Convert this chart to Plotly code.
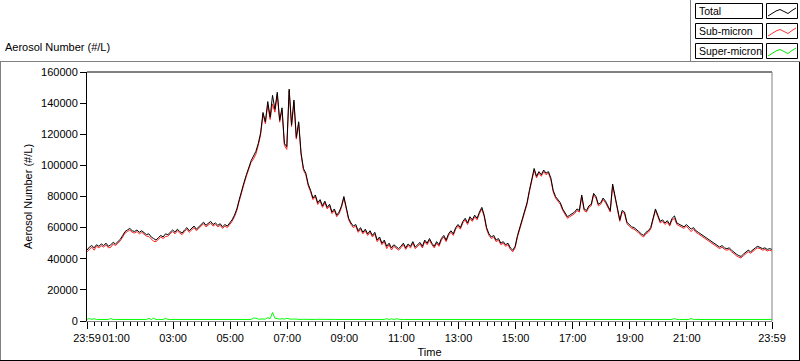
import plotly.graph_objects as go
import pandas as pd

# ---------------- data (5-minute samples from 23:59 to 23:59 next day) ----------------
total = [
    45500, 47500, 48500, 47000, 49000, 48000, 49500, 48500, 50000, 48000, 49000, 50500,
    49500, 51000, 52500, 55000, 57500, 58500, 59500, 58000, 57500, 58500, 57000, 58000,
    56500, 55500, 56000, 54000, 53000, 52000, 53500, 55000, 54000, 56000, 55500, 57000,
    58500, 57000, 59000, 57500, 56500, 58500, 60000, 58000, 59500, 61000, 59000, 60500,
    62000, 63500, 61500, 62500, 64000, 62000, 63000, 61500, 62500, 60500, 62000, 61000,
    63000, 65000, 68000, 72000, 78000, 84000, 89000, 94000, 99000, 103000, 106000, 109000,
    114000, 121000, 134000, 128000, 141000, 131000, 145000, 136000, 147000, 129000, 137000, 114000,
    112000, 149000, 126000, 142000, 118000, 128000, 108000, 98000, 95000, 88000, 84000, 79000,
    81000, 76000, 78000, 74000, 77000, 73000, 75000, 70000, 72000, 68000, 70000, 74000,
    80000, 72000, 66000, 63000, 61000, 62000, 58000, 60000, 57000, 59000, 56000, 58000,
    55000, 57000, 52000, 54000, 50000, 52000, 48000, 50000, 47000, 49000, 48000, 46500,
    48000, 50000, 47000, 49500, 48000, 51000, 47500, 49000, 50500, 48000, 52000, 50000,
    53000, 50000, 48000, 51000, 49000, 53000, 55000, 52000, 56000, 58000, 56000, 60000,
    62000, 60000, 64000, 66000, 63000, 67000, 65000, 68000, 66000, 70000, 73000, 68000,
    60000, 56000, 54000, 55000, 52000, 53000, 50000, 51000, 49000, 50000, 47000, 45500,
    48000, 55000, 60000, 65000, 70000, 76000, 84000, 92000, 98000, 93000, 96000, 94000,
    97000, 95000, 96000, 92000, 84000, 80000, 78000, 76000, 72000, 69000, 67000, 68000,
    69000, 70000, 72000, 71000, 81000, 72000, 71000, 74000, 75000, 82000, 80000, 75000,
    76000, 79000, 77000, 74000, 71000, 88000, 80000, 73000, 65000, 71000, 70000, 63500,
    62000, 60500, 60000, 59000, 57500, 56000, 55000, 57000, 58000, 60000, 66000, 72000,
    68000, 64000, 65000, 63000, 64500, 62000, 66000, 67500, 63000, 62000, 61000, 60500,
    62000, 60500, 59000, 60000, 58000, 57000, 56000, 55000, 54000, 53000, 52000, 51000,
    50000, 49000, 47500, 48500, 47000, 46500, 47000, 45500, 44000, 43000, 42000, 41500,
    43000, 44000, 45500, 44500, 46000, 47000, 48000, 47500, 46500, 47000, 46000, 46500,
    46000,
]

super_micron = [
    1100, 1600, 1000, 1500, 1000, 1000, 1100, 1000, 1000, 1000, 1600, 1000,
    1000, 1000, 1000, 1000, 1000, 1000, 1100, 1000, 1000, 1000, 1000, 1000,
    1000, 1000, 1700, 1000, 1800, 1000, 1000, 1000, 1000, 1700, 1000, 1000,
    1000, 1000, 1000, 1000, 1000, 1000, 1000, 1000, 1000, 1000, 1000, 1000,
    1000, 1000, 1000, 1000, 1100, 1000, 1000, 1000, 1000, 1000, 1000, 1000,
    1000, 1000, 1000, 1000, 1000, 1000, 1100, 1000, 1000, 1000, 1900, 1800,
    1200, 1400, 1300, 1200, 2200, 1500, 5500, 1800, 1300, 1200, 1500, 1200,
    1700, 1200, 1100, 1300, 1100, 1200, 1000, 1100, 1000, 1100, 1000, 1000,
    1000, 1100, 1000, 1000, 1100, 1000, 1000, 1000, 1000, 1000, 1000, 1000,
    1000, 1000, 1000, 1000, 1000, 1000, 1000, 1000, 1000, 1000, 1000, 1000,
    1000, 1000, 1000, 1000, 1000, 1000, 1500, 1000, 1400, 1000, 1400, 1000,
    1000, 1000, 1000, 1000, 1000, 1000, 1000, 1000, 1000, 1000, 1000, 1000,
    1000, 1000, 1000, 1000, 1000, 1000, 1000, 1000, 1000, 1000, 1000, 1000,
    1000, 1000, 1000, 1000, 1000, 1000, 1000, 1000, 1000, 1000, 1000, 1000,
    1000, 1000, 1000, 1000, 1000, 1000, 1000, 1000, 1000, 1000, 1000, 1000,
    1000, 1000, 1000, 1000, 1000, 1000, 1000, 1000, 1000, 1000, 1000, 1000,
    1000, 1000, 1000, 1000, 1000, 1000, 1000, 1000, 1000, 1000, 1000, 1000,
    1000, 1000, 1000, 1000, 1000, 1000, 1000, 1000, 1000, 1000, 1000, 1000,
    1000, 1000, 1000, 1000, 1000, 1000, 1000, 1000, 1000, 1000, 1000, 1000,
    1000, 1000, 1000, 1000, 1000, 1000, 1000, 1000, 1000, 1000, 1000, 1000,
    1000, 1000, 1000, 1000, 1000, 1000, 1000, 1600, 1000, 1000, 1000, 1000,
    1000, 1000, 1600, 1000, 1000, 1000, 1000, 1000, 1000, 1000, 1000, 1000,
    1000, 1000, 1000, 1000, 1000, 1000, 1000, 1000, 1000, 1000, 1000, 1000,
    1000, 1000, 1000, 1000, 1000, 1000, 1000, 1000, 1000, 1000, 1000, 1000,
    1000,
]

sub_micron = [t - s for t, s in zip(total, super_micron)]

start_time = "2024-01-01 23:59"
end_time = "2024-01-02 23:59"
tick_vals = [start_time] + [f"2024-01-02 {h:02d}:00" for h in range(1, 22, 2)] + [end_time]
tick_text = ["23:59"] + [f"{h:02d}:00" for h in range(1, 22, 2)] + ["23:59"]
y_ticks = [0, 20000, 40000, 60000, 80000, 100000, 120000, 140000, 160000]

times = pd.date_range(start_time, periods=len(total), freq="5min")

# ---------------- geometry helpers (pixel -> paper) ----------------
W, H = 800, 361
L, R, T, B = 87, 772, 72, 321
PW, PH = R - L, B - T


def px(x):
    return (x - L) / PW


def py(y):
    return (B - y) / PH


FONT = "Liberation Sans"
FS = 11
GRAY = "#808080"

fig = go.Figure()
fig.add_trace(go.Scatter(x=times, y=super_micron, mode="lines",
                         line=dict(color="#00ff00", width=1), name="Super-micron"))
fig.add_trace(go.Scatter(x=times, y=sub_micron, mode="lines",
                         line=dict(color="#ff2020", width=1), name="Sub-micron"))
fig.add_trace(go.Scatter(x=times, y=total, mode="lines",
                         line=dict(color="#000000", width=1), name="Total"))

shapes = []


def line(x0, y0, x1, y1, color, width=1):
    shapes.append(dict(type="line", xref="paper", yref="paper",
                       x0=px(x0), y0=py(y0), x1=px(x1), y1=py(y1),
                       line=dict(color=color, width=width), layer="above"))


# outer frame
line(0, 61.5, 690, 61.5, GRAY)
line(0.5, 61, 0.5, 361, GRAY)
line(799.5, 61, 799.5, 361, "#000000")
line(0, 360.5, 800, 360.5, "#000000")
# legend panel border
line(690.5, 0, 690.5, 61, GRAY)
line(690, 61.5, 800, 61.5, GRAY)
# plot borders (top black, right gray)
line(L, T, R, T, "#000000")
line(R, T, R, B, GRAY)

# legend
legend_items = [("Total", "#000000"), ("Sub-micron", "#ff3030"), ("Super-micron", "#00ee00")]
annotations = []
for i, (name, col) in enumerate(legend_items):
    top = 3.5 + i * 20
    bot = top + 15
    shapes.append(dict(type="rect", xref="paper", yref="paper",
                       x0=px(695.5), x1=px(762.5), y0=py(bot), y1=py(top),
                       line=dict(color="#000000", width=1), fillcolor="white", layer="above"))
    shapes.append(dict(type="rect", xref="paper", yref="paper",
                       x0=px(766.5), x1=px(797.5), y0=py(bot), y1=py(top),
                       line=dict(color="#000000", width=1), fillcolor="white", layer="above"))
    pts = [(768, 12.5), (772, 10), (776, 7.5), (780, 6), (784, 8), (788, 10), (792, 7), (796, 4.5)]
    path = "M " + " L ".join(f"{px(x)},{py(top + y)}" for x, y in pts)
    shapes.append(dict(type="path", xref="paper", yref="paper", path=path,
                       line=dict(color=col, width=1), layer="above"))
    annotations.append(dict(text=name, xref="paper", yref="paper",
                            x=px(697), y=py((top + bot) / 2), xanchor="left", yanchor="middle",
                            showarrow=False, font=dict(family=FONT, size=10.5, color="#000000")))

# top-left title
annotations.append(dict(text="Aerosol Number (#/L)", xref="paper", yref="paper",
                        x=px(3), y=py(47), xanchor="left", yanchor="middle",
                        showarrow=False, font=dict(family=FONT, size=FS, color="#000000")))

fig.update_layout(
    width=W, height=H,
    margin=dict(l=L, r=W - R, t=T, b=H - B, pad=0, autoexpand=False),
    paper_bgcolor="white", plot_bgcolor="white",
    showlegend=False,
    font=dict(family=FONT, size=FS, color="#000000"),
    shapes=shapes, annotations=annotations,
    xaxis=dict(
        type="date", range=[start_time, end_time], automargin=False,
        tickmode="array", tickvals=tick_vals, ticktext=tick_text, tickangle=0,
        ticks="outside", ticklen=7, tickcolor="#000000", tickwidth=1,
        showline=True, linecolor=GRAY, linewidth=1,
        showgrid=False, zeroline=False,
        minor=dict(ticks="outside", ticklen=4, tickcolor="#000000", tickwidth=1,
                   tick0="2024-01-02 00:00", dtick=900000, showgrid=False),
        tickfont=dict(family=FONT, size=FS),
        title=dict(text="Time", font=dict(family=FONT, size=FS), standoff=5),
    ),
    yaxis=dict(
        range=[0, 160000], automargin=False,
        tickmode="array", tickvals=y_ticks, tickformat="d",
        ticks="outside", ticklen=6, tickcolor="#000000", tickwidth=1,
        showline=True, linecolor="#000000", linewidth=1,
        showgrid=False, zeroline=False,
        tickfont=dict(family=FONT, size=FS),
        title=dict(text="Aerosol Number (#/L)", font=dict(family=FONT, size=FS), standoff=6),
    ),
)

fig.write_html("out.html",
               config={"displayModeBar": False},
               post_script="document.body.style.margin='0px';document.body.style.overflow='hidden';")
